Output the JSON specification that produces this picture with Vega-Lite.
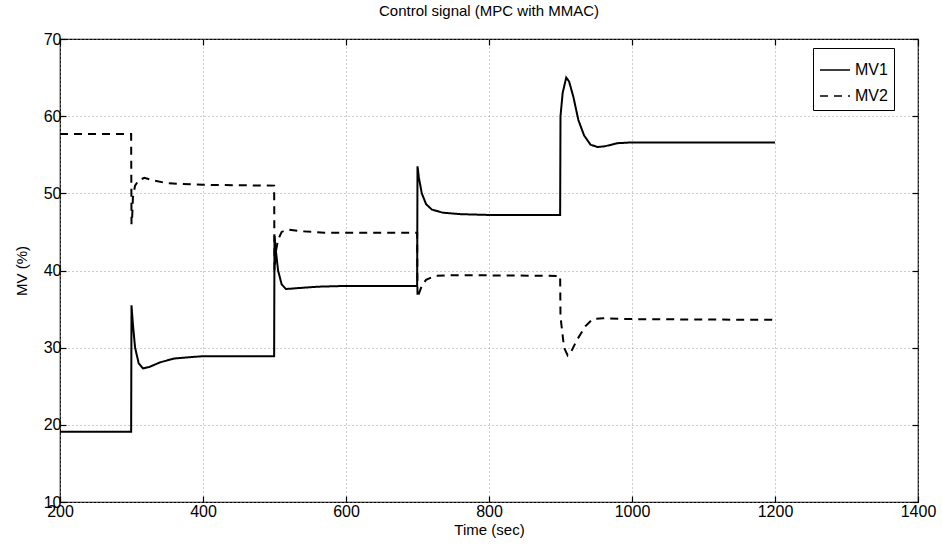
{
  "$schema": "https://vega.github.io/schema/vega-lite/v6.json",
  "width": 858,
  "height": 463,
  "autosize": {"type": "none"},
  "padding": {"left": 60, "top": 39, "right": 24, "bottom": 50},
  "background": "white",
  "config": {
    "view": {"stroke": "black", "strokeWidth": 1.2},
    "font": "Liberation Sans",
    "axis": {
      "labelFont": "Liberation Sans",
      "titleFont": "Liberation Sans",
      "labelFontSize": 16,
      "titleFontSize": 15,
      "titleFontWeight": "normal",
      "labelColor": "black",
      "titleColor": "black",
      "domain": false,
      "tickColor": "black",
      "tickSize": -6,
      "tickWidth": 1.2,
      "gridColor": "#9a9a9a",
      "gridDash": [1, 3],
      "gridWidth": 1
    }
  },
  "title": {
    "text": "Control signal (MPC with MMAC)",
    "font": "Liberation Sans",
    "fontSize": 15,
    "fontWeight": "normal",
    "color": "black",
    "anchor": "middle",
    "offset": 12
  },
  "data": {
    "values": [
      {"t": 200, "v": 19.1, "series": "MV1"},
      {"t": 299.5, "v": 19.1, "series": "MV1"},
      {"t": 300, "v": 35.5, "series": "MV1"},
      {"t": 302, "v": 33.0, "series": "MV1"},
      {"t": 305, "v": 30.0, "series": "MV1"},
      {"t": 310, "v": 28.0, "series": "MV1"},
      {"t": 316, "v": 27.3, "series": "MV1"},
      {"t": 325, "v": 27.5, "series": "MV1"},
      {"t": 340, "v": 28.1, "series": "MV1"},
      {"t": 360, "v": 28.6, "series": "MV1"},
      {"t": 400, "v": 28.9, "series": "MV1"},
      {"t": 499.5, "v": 28.9, "series": "MV1"},
      {"t": 500, "v": 44.5, "series": "MV1"},
      {"t": 502, "v": 42.5, "series": "MV1"},
      {"t": 505, "v": 40.0, "series": "MV1"},
      {"t": 510, "v": 38.2, "series": "MV1"},
      {"t": 516, "v": 37.6, "series": "MV1"},
      {"t": 530, "v": 37.7, "series": "MV1"},
      {"t": 560, "v": 37.9, "series": "MV1"},
      {"t": 600, "v": 38.0, "series": "MV1"},
      {"t": 699.5, "v": 38.0, "series": "MV1"},
      {"t": 700, "v": 53.5, "series": "MV1"},
      {"t": 702, "v": 52.0, "series": "MV1"},
      {"t": 706, "v": 50.0, "series": "MV1"},
      {"t": 712, "v": 48.6, "series": "MV1"},
      {"t": 720, "v": 47.9, "series": "MV1"},
      {"t": 735, "v": 47.5, "series": "MV1"},
      {"t": 760, "v": 47.3, "series": "MV1"},
      {"t": 800, "v": 47.2, "series": "MV1"},
      {"t": 899.5, "v": 47.2, "series": "MV1"},
      {"t": 900, "v": 60.0, "series": "MV1"},
      {"t": 903, "v": 63.0, "series": "MV1"},
      {"t": 908, "v": 65.0, "series": "MV1"},
      {"t": 912, "v": 64.5, "series": "MV1"},
      {"t": 918, "v": 62.5, "series": "MV1"},
      {"t": 925, "v": 59.5, "series": "MV1"},
      {"t": 933, "v": 57.5, "series": "MV1"},
      {"t": 942, "v": 56.3, "series": "MV1"},
      {"t": 952, "v": 56.0, "series": "MV1"},
      {"t": 962, "v": 56.1, "series": "MV1"},
      {"t": 980, "v": 56.5, "series": "MV1"},
      {"t": 1000, "v": 56.6, "series": "MV1"},
      {"t": 1200, "v": 56.6, "series": "MV1"},
      {"t": 200, "v": 57.7, "series": "MV2"},
      {"t": 299.5, "v": 57.7, "series": "MV2"},
      {"t": 300, "v": 46.0, "series": "MV2"},
      {"t": 301, "v": 47.0, "series": "MV2"},
      {"t": 302, "v": 49.5, "series": "MV2"},
      {"t": 305, "v": 51.0, "series": "MV2"},
      {"t": 310, "v": 51.7, "series": "MV2"},
      {"t": 318, "v": 52.0, "series": "MV2"},
      {"t": 330, "v": 51.7, "series": "MV2"},
      {"t": 350, "v": 51.3, "series": "MV2"},
      {"t": 400, "v": 51.1, "series": "MV2"},
      {"t": 499.5, "v": 51.0, "series": "MV2"},
      {"t": 500, "v": 40.0, "series": "MV2"},
      {"t": 502, "v": 42.5, "series": "MV2"},
      {"t": 505, "v": 44.0, "series": "MV2"},
      {"t": 510, "v": 45.0, "series": "MV2"},
      {"t": 518, "v": 45.3, "series": "MV2"},
      {"t": 535, "v": 45.1, "series": "MV2"},
      {"t": 570, "v": 44.9, "series": "MV2"},
      {"t": 699.5, "v": 44.9, "series": "MV2"},
      {"t": 700, "v": 36.5, "series": "MV2"},
      {"t": 702, "v": 37.0, "series": "MV2"},
      {"t": 706, "v": 38.0, "series": "MV2"},
      {"t": 712, "v": 38.8, "series": "MV2"},
      {"t": 725, "v": 39.3, "series": "MV2"},
      {"t": 750, "v": 39.4, "series": "MV2"},
      {"t": 899.5, "v": 39.3, "series": "MV2"},
      {"t": 900, "v": 34.0, "series": "MV2"},
      {"t": 905, "v": 30.0, "series": "MV2"},
      {"t": 910, "v": 29.0, "series": "MV2"},
      {"t": 915, "v": 29.5, "series": "MV2"},
      {"t": 923, "v": 31.0, "series": "MV2"},
      {"t": 935, "v": 32.8, "series": "MV2"},
      {"t": 945, "v": 33.7, "series": "MV2"},
      {"t": 960, "v": 33.8, "series": "MV2"},
      {"t": 1000, "v": 33.7, "series": "MV2"},
      {"t": 1200, "v": 33.6, "series": "MV2"}
    ]
  },
  "layer": [
    {
      "mark": {"type": "line", "color": "black", "strokeWidth": 2},
      "encoding": {
        "x": {
          "field": "t", "type": "quantitative",
          "scale": {"domain": [200, 1400], "nice": false, "zero": false},
          "axis": {"orient": "bottom", "values": [200, 400, 600, 800, 1000, 1200, 1400], "format": "d", "title": "Time (sec)", "labelPadding": 7, "titlePadding": 3, "labelFlush": false}
        },
        "y": {
          "field": "v", "type": "quantitative",
          "scale": {"domain": [10, 70], "nice": false, "zero": false},
          "axis": {"orient": "left", "values": [10, 20, 30, 40, 50, 60, 70], "format": "d", "title": "MV (%)", "labelPadding": 5, "titlePadding": 14, "labelFlush": false}
        },
        "strokeDash": {
          "field": "series", "type": "nominal",
          "scale": {"domain": ["MV1", "MV2"], "range": [[1, 0], [8, 6]]},
          "legend": {
            "title": null,
            "orient": "none",
            "legendX": 753,
            "legendY": 9,
            "direction": "vertical",
            "strokeColor": "black",
            "fillColor": "white",
            "padding": 6,
            "symbolType": "stroke",
            "symbolSize": 900,
            "symbolStrokeWidth": 1.5,
            "symbolStrokeColor": "black",
            "labelFont": "Liberation Sans",
            "labelFontSize": 16,
            "labelColor": "black",
            "rowPadding": 2
          }
        }
      }
    },
    {
      "mark": {"type": "line", "opacity": 0},
      "encoding": {
        "x": {
          "field": "t", "type": "quantitative",
          "axis": {"orient": "top", "values": [200, 400, 600, 800, 1000, 1200, 1400], "labels": false, "title": null, "grid": false}
        },
        "y": {
          "field": "v", "type": "quantitative",
          "axis": {"orient": "right", "values": [10, 20, 30, 40, 50, 60, 70], "labels": false, "title": null, "grid": false}
        },
        "detail": {"field": "series", "type": "nominal"}
      }
    }
  ],
  "resolve": {"axis": {"x": "independent", "y": "independent"}}
}
